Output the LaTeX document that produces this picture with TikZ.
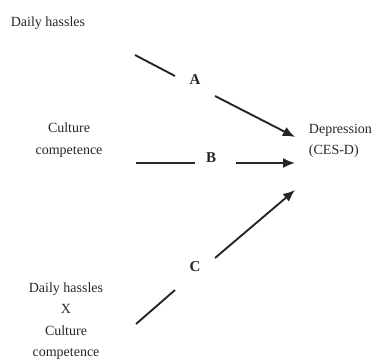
\documentclass[tikz,border=0pt]{standalone}
\usepackage{fontspec}
\setmainfont{Liberation Serif}
\usetikzlibrary{arrows.meta}
\begin{document}
\begin{tikzpicture}[x=1pt,y=-1pt,>={Latex[length=12pt,width=10pt]},
     line width=1.9pt, draw=black!85, text=black!85,
     every node/.style={font=\fontsize{14}{21.5}\selectfont, inner sep=0pt},
     path label/.style={font=\fontsize{15}{18}\selectfont\bfseries}]
    \useasboundingbox (0,0) rectangle (374,362);
    \node (dh) at (48,23) {Daily hassles};
    \node[align=center] (cc) at (69,140) {Culture\\competence};
    \node[align=center] (int) at (66,321) {Daily hassles\\X\\Culture\\competence};
    \node[align=left, anchor=west] (dep) at (308,141) {Depression\\(CES-D)};
    \node[path label] (la) at (195,80) {A};
    \node[path label] (lb) at (211,158) {B};
    \node[path label] (lc) at (195,267) {C};
    % line ends
    \coordinate (a0) at (135,55);  \coordinate (a1) at (175,76);
    \coordinate (a2) at (215,96);  \coordinate (a3) at (295,137);
    \coordinate (b0) at (136,163); \coordinate (b1) at (195,163);
    \coordinate (b2) at (236,163); \coordinate (b3) at (295,163);
    \coordinate (c0) at (136,324); \coordinate (c1) at (175,290);
    \coordinate (c2) at (215,258); \coordinate (c3) at (295,190);
    \draw (a0) -- (a1);
    \draw[->] (a2) -- (a3);
    \draw (b0) -- (b1);
    \draw[->] (b2) -- (b3);
    \draw (c0) -- (c1);
    \draw[->] (c2) -- (c3);
\end{tikzpicture}
\end{document}
